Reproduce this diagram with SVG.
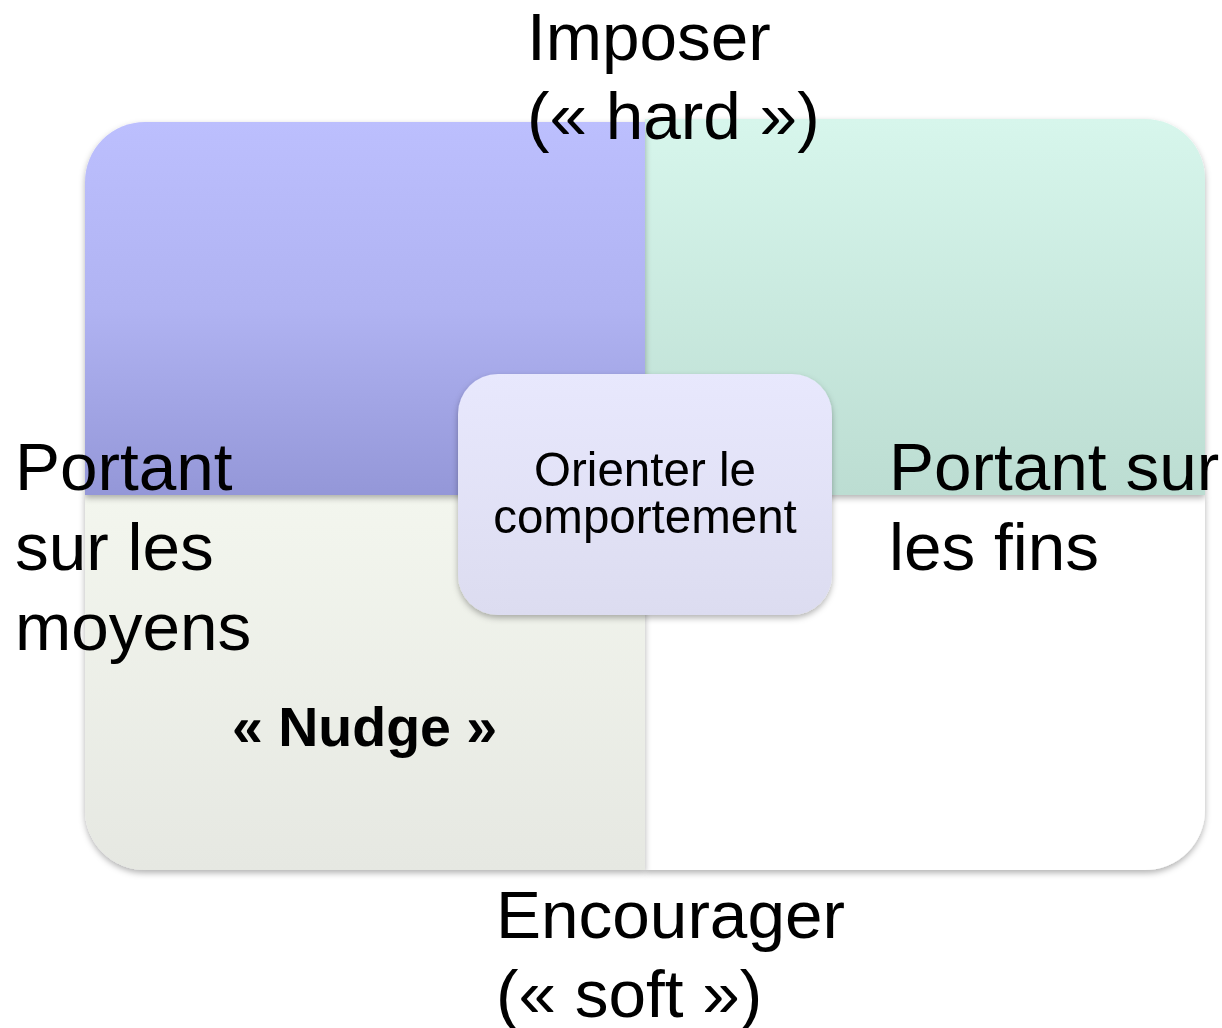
<svg xmlns="http://www.w3.org/2000/svg" width="1222" height="1028" viewBox="0 0 1222 1028">
<defs>
<linearGradient id="gTL" x1="0" y1="0" x2="0" y2="1"><stop offset="0" stop-color="#bcbffe"/><stop offset="0.5" stop-color="#b0b3f2"/><stop offset="1" stop-color="#9497d8"/></linearGradient>
<linearGradient id="gTR" x1="0" y1="0" x2="0" y2="1"><stop offset="0" stop-color="#d7f6ec"/><stop offset="1" stop-color="#bcddd2"/></linearGradient>
<linearGradient id="gBL" x1="0" y1="0" x2="0" y2="1"><stop offset="0" stop-color="#f3f6ee"/><stop offset="1" stop-color="#e6e8e2"/></linearGradient>
<linearGradient id="gC" x1="0" y1="0" x2="0" y2="1"><stop offset="0" stop-color="#e8e8fd"/><stop offset="1" stop-color="#dcdcf0"/></linearGradient>
<filter id="sh" x="-10%" y="-10%" width="125%" height="125%"><feDropShadow dx="0" dy="3" stdDeviation="3" flood-color="#000" flood-opacity="0.3"/></filter>
</defs>
<style>
text{font-family:"Liberation Sans",Arial,sans-serif;fill:#000}
.big{font-size:67.5px}
.mid{font-size:47.5px}
.nud{font-size:55.5px;font-weight:bold}
</style>
<g id="q-br" filter="url(#sh)"><path d="M645 495 H1205 V810 A60 60 0 0 1 1145 870 H645 Z" fill="#ffffff"/></g>
<g id="q-bl" filter="url(#sh)"><path d="M85 495 H645 V870 H145 A60 60 0 0 1 85 810 Z" fill="url(#gBL)"/></g>
<g id="q-tr" filter="url(#sh)"><path d="M645 119 H1145 A60 60 0 0 1 1205 179 V495 H645 Z" fill="url(#gTR)"/></g>
<g id="q-tl" filter="url(#sh)"><path d="M145 122 H645 V495 H85 V182 A60 60 0 0 1 145 122 Z" fill="url(#gTL)"/></g>
<g id="center" filter="url(#sh)"><rect x="458" y="374" width="374" height="241" rx="40" fill="url(#gC)"/>
<text class="mid" x="645" y="486" text-anchor="middle">Orienter le</text>
<text class="mid" x="645" y="533" text-anchor="middle">comportement</text></g>
<g id="connectors"></g>
<g id="labels">
<text class="big" x="527" y="60">Imposer</text>
<text class="big" x="527" y="139">(« hard »)</text>
<text class="big" x="15" y="490">Portant</text>
<text class="big" x="15" y="570">sur les</text>
<text class="big" x="15" y="650">moyens</text>
<text class="big" x="889" y="490">Portant sur</text>
<text class="big" x="889" y="570">les fins</text>
<text class="big" x="496" y="938">Encourager</text>
<text class="big" x="496" y="1017">(« soft »)</text>
<text class="nud" x="232" y="746">« Nudge »</text>
</g>
</svg>
